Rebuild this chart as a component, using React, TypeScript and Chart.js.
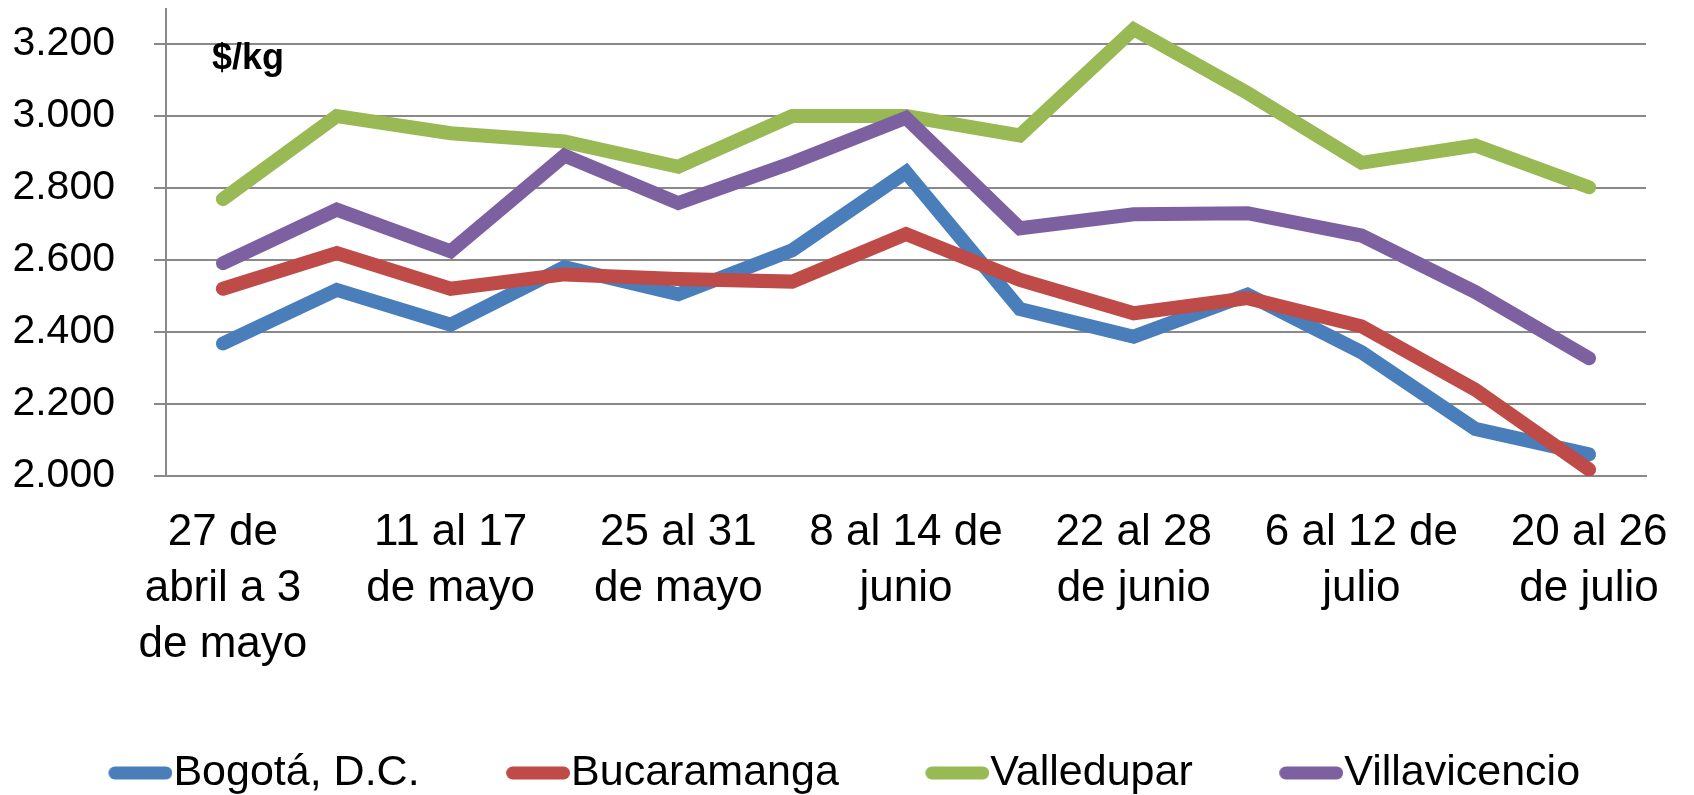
import React, { useEffect, useRef } from 'react';
import { Chart, registerables } from 'chart.js';

Chart.register(...registerables);

// Weekly periods (category axis); only every other one is labelled in the original
const weeks: string[][] = [
  ['27 de', 'abril a 3', 'de mayo'],
  ['4 al 10', 'de mayo'],
  ['11 al 17', 'de mayo'],
  ['18 al 24', 'de mayo'],
  ['25 al 31', 'de mayo'],
  ['1 al 7 de', 'junio'],
  ['8 al 14 de', 'junio'],
  ['15 al 21', 'de junio'],
  ['22 al 28', 'de junio'],
  ['29 de junio', 'al 5 de julio'],
  ['6 al 12 de', 'julio'],
  ['13 al 19', 'de julio'],
  ['20 al 26', 'de julio'],
];

// Prices ($/kg)
const bogota = [2368, 2517, 2420, 2580, 2505, 2627, 2844, 2464, 2387, 2504, 2344, 2131, 2060];
const bucaramanga = [2520, 2619, 2520, 2560, 2547, 2540, 2672, 2545, 2452, 2494, 2416, 2240, 2018];
const valledupar = [2769, 3000, 2952, 2929, 2859, 3000, 3000, 2946, 3241, 3064, 2870, 2918, 2802];
const villavicencio = [2591, 2740, 2624, 2890, 2758, 2870, 2995, 2688, 2727, 2730, 2668, 2511, 2327];

const seriesNames = ['Bogotá, D.C.', 'Bucaramanga', 'Valledupar', 'Villavicencio'];
const seriesValues = [bogota, bucaramanga, valledupar, villavicencio];
const seriesColors = ['#4A7EBB', '#BE4B48', '#98B954', '#7D60A0'];

const yMin = 2000;
const yMax = 3300;
const yTickValues = [2000, 2200, 2400, 2600, 2800, 3000, 3200];
const unitLabel = '$/kg';

const FONT = "'Liberation Sans', Arial, Helvetica, sans-serif";
const GRID = '#898989';
const LINE_W = 14;
const MARK_LINE_W = 13;
const LEG_BOX = 120; // legend box width slot
const MARK_W = LEG_BOX + 41; // marker image width (transparent left part + 64px line)

const fmt = (v: number) => {
  const th = Math.floor(v / 1000);
  const rest = String(Math.round(v % 1000)).padStart(3, '0');
  return th > 0 ? `${th}.${rest}` : String(v);
};

function makeMarker(color: string) {
  const c = document.createElement('canvas');
  c.width = MARK_W;
  c.height = 14;
  const ctx = c.getContext('2d')!;
  ctx.strokeStyle = color;
  ctx.lineWidth = MARK_LINE_W;
  ctx.lineCap = 'round';
  ctx.beginPath();
  ctx.moveTo(MARK_W - 64 + 6.5, 7);
  ctx.lineTo(MARK_W - 6.5, 7);
  ctx.stroke();
  return c;
}

export default function App() {
  const ref = useRef<HTMLCanvasElement>(null);

  useEffect(() => {
    if (!ref.current) return;
    const markers = seriesColors.map(makeMarker);

    const unitPlugin = {
      id: 'unitLabel',
      afterDraw(chart: any) {
        const ctx = chart.ctx;
        ctx.save();
        ctx.font = `bold 36px ${FONT}`;
        ctx.fillStyle = '#000';
        ctx.textAlign = 'left';
        ctx.textBaseline = 'alphabetic';
        ctx.fillText(unitLabel, chart.chartArea.left + 46, 61);
        ctx.restore();
      },
    };

    const legendShift = {
      id: 'legendShift',
      afterLayout(chart: any) {
        const lg = chart.legend;
        if (!lg) return;
        lg.left -= 21;
        lg.right -= 21;
        lg.top += 9.5;
        lg.bottom += 9.5;
      },
    };

    const chart = new Chart(ref.current, {
      type: 'line',
      data: {
        labels: weeks as any,
        datasets: seriesNames.map((name, i) => ({
          label: name,
          data: seriesValues[i],
          borderColor: seriesColors[i],
          backgroundColor: seriesColors[i],
          borderWidth: LINE_W,
          borderCapStyle: 'round' as const,
          borderJoinStyle: 'miter' as const,
          pointRadius: 0,
          pointHoverRadius: 0,
          tension: 0,
          fill: false,
          order: seriesNames.length - i,
        })),
      },
      options: {
        animation: false,
        responsive: true,
        maintainAspectRatio: false,
        layout: { padding: { left: 0, right: 40, top: 0, bottom: 0 } },
        plugins: {
          tooltip: { enabled: false },
          legend: {
            position: 'bottom',
            align: 'center',
            labels: {
              usePointStyle: true,
              pointStyleWidth: LEG_BOX,
              padding: 10,
              color: '#000',
              font: { family: FONT, size: 43 },
              sort: (a: any, b: any) => a.datasetIndex - b.datasetIndex,
              generateLabels: (c: any) =>
                Chart.defaults.plugins.legend.labels.generateLabels(c).map((it: any) => ({
                  ...it,
                  pointStyle: markers[it.datasetIndex],
                })),
            },
          },
        },
        scales: {
          x: {
            offset: true,
            grid: { display: false, drawTicks: false },
            border: { display: true, color: GRID, width: 2 },
            ticks: {
              autoSkip: false,
              maxRotation: 0,
              minRotation: 0,
              padding: 29,
              color: '#000',
              font: { family: FONT, size: 44, lineHeight: 56 / 44 },
              callback: (_v: any, i: number) => (i % 2 === 0 ? weeks[i] : ''),
            },
            afterFit: (s: any) => {
              s.height = 256;
              s.paddingLeft = 0;
              s.paddingRight = 0;
            },
          },
          y: {
            min: yMin,
            max: yMax,
            ticks: {
              padding: 39,
              color: '#000',
              font: { family: FONT, size: 41 },
              callback: (v: any) => fmt(Number(v)),
            },
            grid: { color: GRID, lineWidth: 2, drawTicks: true, tickLength: 12, tickColor: GRID },
            border: { display: true, color: GRID, width: 2 },
            afterBuildTicks: (s: any) => {
              s.ticks = yTickValues.map((v) => ({ value: v }));
            },
            afterFit: (s: any) => {
              s.width = 158;
              s.paddingTop = 0;
              s.paddingBottom = 0;
            },
          },
        },
      } as any,
      plugins: [unitPlugin, legendShift],
    });
    return () => chart.destroy();
  }, []);

  return (
    <div style={{ position: 'relative', width: '100%', height: 787 }}>
      <canvas ref={ref} />
    </div>
  );
}
